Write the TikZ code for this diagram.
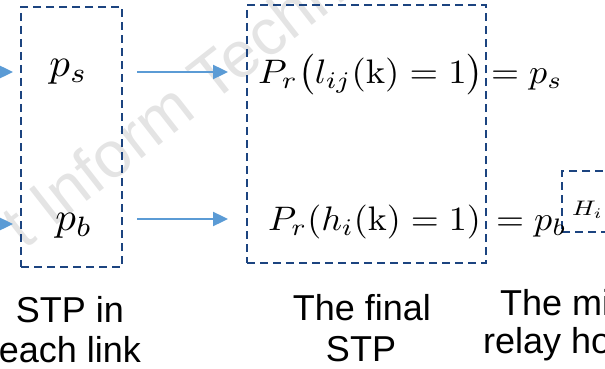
\documentclass[tikz,border=0pt]{standalone}
\usepackage[no-math]{fontspec}
\setmainfont{Liberation Sans}
\usetikzlibrary{arrows.meta}
\definecolor{arrowblue}{RGB}{91,155,213}
\definecolor{boxblue}{RGB}{28,68,128}
\definecolor{wmgray}{RGB}{228,228,228}
\newcommand{\mathbig}[3]{\scalebox{#1}[#2]{$#3$}}
\begin{document}
\begin{tikzpicture}[x=1pt,y=-1pt,
  stpbox/.style={draw=boxblue, line width=2.2pt, dash pattern=on 8pt off 5pt, inner sep=0pt},
  flow/.style={draw=arrowblue, line width=2.4pt, -{Triangle[length=15pt,width=14pt]}},
  lbl/.style={font=\fontsize{36}{40}\selectfont, inner sep=0pt, anchor=base},
  eq/.style={inner sep=0pt, anchor=base west},
  wm/.style={font=\fontsize{65}{70}\selectfont, text=wmgray, inner sep=0pt}
]
\useasboundingbox (0,0) rectangle (605,369);
\clip (0,0) rectangle (605,369);
% watermark
\node[wm, rotate=38, anchor=base west] (wm) at (24,251) {t Inform Techn};
% boxes
\node[stpbox, minimum width=101pt, minimum height=260pt] (lbox) at (71.5,137) {};
\node[stpbox, minimum width=239pt, minimum height=258pt] (mbox) at (366.5,134) {};
\node[stpbox, minimum width=68pt, minimum height=61pt] (sbox) at (596,201.5) {};
% left math
\node[eq, anchor=base] (ps) at (68.5,77) {\mathbig{4.1}{4}{p_s}};
\node[eq, anchor=base] (pb) at (74,230) {\mathbig{4.1}{4}{p_b}};
% middle equations
\node[eq] (e1) at (258,83) {\mathbig{3.67}{3.4}{P_r\big(l_{ij}(\mathrm{k})=1\big)}};
\node[eq] (e1r) at (491,83) {\mathbig{3.6}{3.4}{=p_s}};
\node[eq] (e2) at (268,230) {\mathbig{3.6}{3.4}{P_r(h_i(\mathrm{k})=1)}};
\node[eq] (e2r) at (496,230) {\mathbig{3.6}{3.4}{=p_b}};
\node[eq] (hi) at (572,215) {\mathbig{2.6}{2.1}{H_i}};
% arrows
\coordinate (in1) at (-10,72);
\coordinate (t1) at (13,72);
\coordinate (in2) at (-10,224);
\coordinate (t2) at (13,224);
\coordinate (a1s) at (137,72);
\coordinate (a1e) at (228,72);
\coordinate (a2s) at (137,219);
\coordinate (a2e) at (228,219);
\draw[flow] (in1) -- (t1);
\draw[flow] (in2) -- (t2);
\draw[flow] (a1s) -- (a1e);
\draw[flow] (a2s) -- (a2e);
% labels
\node[lbl] (l1a) at (70,322) {STP in};
\node[lbl] (l1b) at (70,362) {each link};
\node[lbl] (l2a) at (362,320) {The final};
\node[lbl] (l2b) at (361,361) {STP};
\node[lbl, anchor=base west] (l3a) at (500,315) {The mi};
\node[lbl, anchor=base west] (l3b) at (483,353) {relay ho};
\end{tikzpicture}
\end{document}
